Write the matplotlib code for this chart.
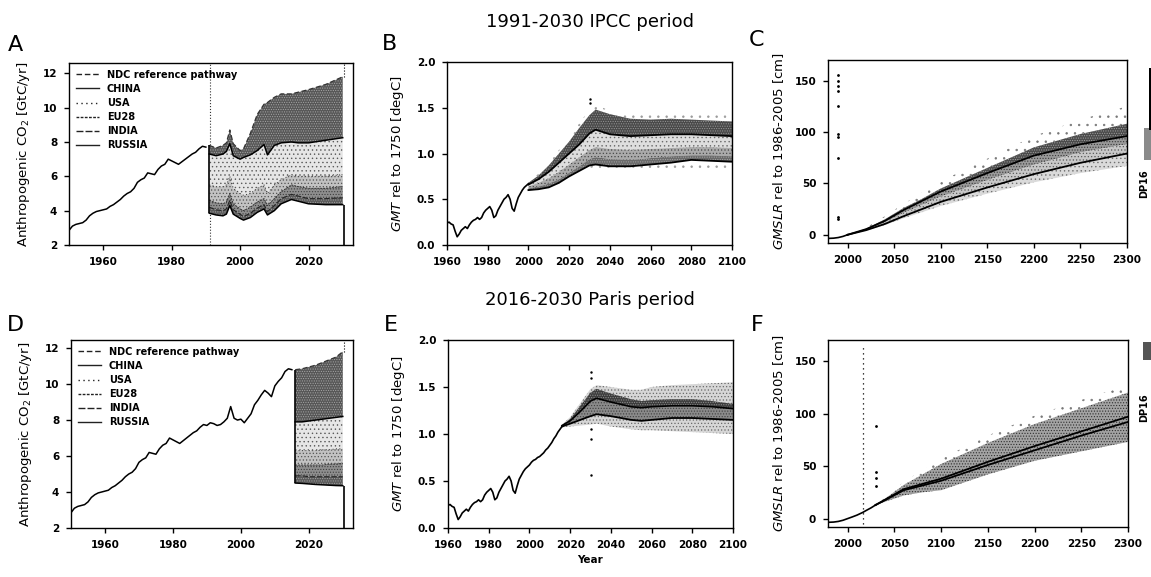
import matplotlib
matplotlib.use("Agg")
import matplotlib.pyplot as plt
from matplotlib.lines import Line2D
from matplotlib.patches import Rectangle

plt.rcParams['font.family'] = ['DejaVu Sans']
plt.rcParams['hatch.linewidth'] = 0.5

# ---------------- DATA ----------------
# Historical anthropogenic CO2 emissions (GtC/yr)
hist_years = list(range(1950, 2016))
hist_co2 = [2.85, 3.1, 3.2, 3.25, 3.3, 3.45, 3.7, 3.85, 3.95, 4.0,
            4.05, 4.1, 4.25, 4.35, 4.5, 4.65, 4.85, 5.0, 5.1, 5.3,
            5.65, 5.8, 5.9, 6.2, 6.15, 6.1, 6.4, 6.6, 6.7, 7.0,
            6.9, 6.8, 6.7, 6.85, 7.0, 7.15, 7.3, 7.4, 7.6, 7.75,
            7.7, 7.85, 7.8, 7.7, 7.75, 7.9, 8.1, 8.75, 8.1, 8.0,
            8.05, 7.85, 8.1, 8.35, 8.85, 9.1, 9.4, 9.65, 9.5, 9.3,
            9.9, 10.15, 10.35, 10.7, 10.85, 10.8]

# Panel A: 1991-2030 IPCC period, stacked country contributions
A_years = [1991, 1993, 1995, 1996, 1997, 1998, 2000, 2001, 2003, 2005,
           2007, 2008, 2010, 2012, 2015, 2017, 2020, 2025, 2030]
A_ref = [7.8, 7.65, 7.8, 7.95, 8.7, 7.9, 7.5, 7.6, 8.5, 9.6,
         10.2, 10.3, 10.6, 10.8, 10.8, 10.9, 11.05, 11.35, 11.8]
A_china = [7.3, 7.2, 7.3, 7.45, 7.9, 7.2, 7.0, 7.1, 7.25, 7.5,
           7.85, 7.25, 7.8, 7.95, 8.0, 7.95, 7.95, 8.1, 8.25]
A_usa = [5.5, 5.4, 5.4, 5.5, 6.0, 5.3, 5.0, 4.9, 5.0, 5.3,
         5.5, 5.0, 5.5, 5.8, 6.1, 6.0, 6.0, 6.0, 6.1]
A_eu28 = [4.6, 4.45, 4.4, 4.5, 5.0, 4.4, 4.1, 4.0, 4.2, 4.5,
          4.7, 4.3, 4.7, 5.1, 5.5, 5.4, 5.3, 5.3, 5.4]
A_india = [4.2, 4.05, 4.0, 4.1, 4.6, 4.05, 3.8, 3.65, 3.85, 4.15,
           4.35, 3.95, 4.3, 4.7, 4.95, 4.85, 4.7, 4.7, 4.75]
A_russia = [3.85, 3.75, 3.7, 3.8, 4.3, 3.8, 3.55, 3.45, 3.6, 3.9,
            4.1, 3.75, 4.0, 4.4, 4.65, 4.55, 4.4, 4.35, 4.35]

# Panel D: 2016-2030 Paris period
D_years = [2016, 2018, 2020, 2022, 2024, 2026, 2028, 2030]
D_ref = [10.8, 10.85, 10.95, 11.05, 11.2, 11.35, 11.5, 11.8]
D_china = [7.9, 7.9, 7.95, 8.0, 8.05, 8.1, 8.15, 8.2]
D_usa = [6.3, 6.3, 6.3, 6.3, 6.35, 6.35, 6.4, 6.4]
D_eu28 = [5.5, 5.5, 5.5, 5.5, 5.5, 5.55, 5.55, 5.6]
D_india = [4.9, 4.9, 4.85, 4.85, 4.85, 4.85, 4.85, 4.85]
D_russia = [4.5, 4.48, 4.45, 4.42, 4.4, 4.38, 4.36, 4.35]

legend_labels = ["NDC reference pathway", "CHINA", "USA", "EU28", "INDIA", "RUSSIA"]

# Historical GMT (degC rel. to 1750)
gmt_hist_years = list(range(1960, 2017))
gmt_hist = [0.24, 0.25, 0.23, 0.22, 0.15, 0.09, 0.12, 0.16, 0.18, 0.2,
            0.18, 0.22, 0.25, 0.27, 0.28, 0.3, 0.28, 0.3, 0.35, 0.38,
            0.4, 0.42, 0.38, 0.3, 0.32, 0.38, 0.42, 0.46, 0.5, 0.52,
            0.55, 0.5, 0.4, 0.37, 0.45, 0.52, 0.56, 0.6, 0.63, 0.65,
            0.67, 0.7, 0.72, 0.73, 0.75, 0.76, 0.78, 0.8, 0.83, 0.85,
            0.88, 0.91, 0.95, 0.98, 1.02, 1.05, 1.08]

# Panel B: GMT bands
B_years = [2000, 2005, 2010, 2015, 2020, 2025, 2030, 2033, 2040, 2050,
           2060, 2070, 2080, 2090, 2100]
B_scatter_top = [0.69, 0.78, 0.9, 1.04, 1.18, 1.33, 1.48, 1.53, 1.47, 1.42,
                 1.43, 1.45, 1.45, 1.46, 1.45]
B_top = [0.68, 0.76, 0.87, 1.0, 1.13, 1.28, 1.42, 1.48, 1.43, 1.38,
         1.37, 1.38, 1.37, 1.36, 1.35]
B_mid = [0.66, 0.72, 0.8, 0.9, 1.0, 1.1, 1.22, 1.26, 1.21, 1.19,
         1.2, 1.21, 1.21, 1.2, 1.19]
B_b2 = [0.64, 0.68, 0.73, 0.8, 0.88, 0.96, 1.04, 1.07, 1.05, 1.04,
        1.05, 1.06, 1.07, 1.07, 1.06]
B_b3 = [0.62, 0.64, 0.67, 0.72, 0.79, 0.86, 0.94, 0.96, 0.94, 0.93,
        0.95, 0.97, 0.98, 0.98, 0.97]
B_low = [0.6, 0.61, 0.63, 0.68, 0.75, 0.81, 0.87, 0.88, 0.86, 0.86,
         0.88, 0.9, 0.93, 0.92, 0.91]
B_scatter_bottom = [0.6, 0.6, 0.62, 0.67, 0.73, 0.79, 0.84, 0.85, 0.82, 0.8,
                    0.8, 0.81, 0.82, 0.8, 0.8]

# Panel E: GMT bands
E_years = [2016, 2020, 2025, 2030, 2033, 2040, 2050, 2055, 2060, 2070,
           2080, 2090, 2100]
E_light_top = [1.1, 1.18, 1.33, 1.48, 1.52, 1.5, 1.47, 1.47, 1.5, 1.52,
               1.53, 1.54, 1.55]
E_top = [1.09, 1.16, 1.3, 1.44, 1.48, 1.43, 1.37, 1.35, 1.36, 1.37,
         1.37, 1.35, 1.32]
E_mid = [1.09, 1.14, 1.24, 1.35, 1.38, 1.34, 1.29, 1.28, 1.29, 1.3,
         1.3, 1.29, 1.27]
E_low = [1.08, 1.11, 1.15, 1.19, 1.21, 1.19, 1.15, 1.14, 1.15, 1.17,
         1.17, 1.16, 1.15]
E_bottom = [1.07, 1.08, 1.09, 1.1, 1.11, 1.08, 1.05, 1.04, 1.04, 1.03,
            1.02, 1.01, 1.0]

# GMSLR historical (cm rel. to 1986-2005)
slr_hist_years = [1980, 1985, 1990, 1995, 2000, 2005, 2010, 2016, 2020, 2025, 2030]
slr_hist = [-3.5, -3.3, -2.7, -1.6, 0.0, 1.6, 3.3, 5.8, 7.8, 10.2, 13.0]

# Panel C: GMSLR bands
C_years = [2000, 2020, 2040, 2060, 2080, 2100, 2150, 2200, 2250, 2300]
C_scatter_top = [0.0, 7.0, 18.0, 30.0, 41.0, 52.0, 74.0, 96.0, 112.0, 125.0]
C_top = [0.0, 6.0, 15.0, 26.0, 35.0, 45.0, 65.0, 85.0, 98.0, 108.0]
C_upper = [0.0, 5.5, 13.5, 24.0, 33.0, 42.0, 60.0, 77.0, 88.0, 96.0]
C_mid = [0.0, 5.0, 12.0, 21.0, 29.0, 37.0, 53.0, 68.0, 80.0, 88.0]
C_lower = [0.0, 4.5, 10.5, 18.0, 25.0, 32.0, 46.0, 59.0, 70.0, 79.0]
C_bottom = [0.0, 4.0, 9.5, 16.0, 22.0, 28.0, 40.0, 51.0, 60.0, 67.0]
C_marker_year = 1990
C_marker_vals = [15, 17, 75, 95, 98, 125, 140, 145, 150, 155]

# Panel F: GMSLR bands
F_years = [2030, 2040, 2060, 2080, 2100, 2150, 2200, 2250, 2300]
F_scatter_top = [13.0, 20.0, 35.0, 46.0, 57.0, 79.0, 98.0, 113.0, 127.0]
F_top = [13.0, 19.0, 32.0, 42.0, 52.0, 72.0, 90.0, 105.0, 120.0]
F_upper = [13.0, 18.0, 28.0, 33.0, 38.0, 54.0, 69.0, 83.0, 97.0]
F_lower = [13.0, 17.5, 27.0, 31.5, 36.0, 51.0, 65.0, 79.0, 92.0]
F_bottom = [13.0, 16.0, 22.0, 25.0, 27.0, 42.0, 55.0, 64.0, 73.0]
F_marker_year = 2016
F_marker2_year = 2030
F_marker2_vals = [31, 39, 44, 88]
E_marker_year = 2030
E_marker_vals = [0.56, 0.95, 1.05, 1.6, 1.66]
B_marker_year = 2030
B_marker_vals = [1.55, 1.6]

titles = ["1991-2030 IPCC period", "2016-2030 Paris period"]
letters = ["A", "B", "C", "D", "E", "F"]
edge_label = "DP16"

# ---------------- FIGURE ----------------
W, H = 1151, 577
fig = plt.figure(figsize=(W / 100, H / 100), dpi=100)


def add_ax(x0, y0, x1, y1):
    return fig.add_axes([x0 / W, 1 - y1 / H, (x1 - x0) / W, (y1 - y0) / H])


axA = add_ax(69, 63, 353, 245)
axB = add_ax(447, 62, 732, 245)
axC = add_ax(828, 60, 1127, 243)
axD = add_ax(71, 340, 353, 528)
axE = add_ax(448, 340, 733, 528)
axF = add_ax(828, 340, 1128, 527)

styles = [(0, (4, 2)), '-', (0, (1, 2.5)), (0, (2, 1)), (0, (5, 1.5)), '-']


def band(ax, x, lo, hi, face, dots, hatch='......', z=2):
    ax.fill_between(x, lo, hi, facecolor=face, edgecolor=dots, hatch=hatch,
                    lw=0, zorder=z)


def style_ax(ax):
    for s in ax.spines.values():
        s.set_linewidth(1.0)
        s.set_color('black')
    ax.tick_params(direction='out', length=3.5, width=1.0, pad=5)
    for lab in ax.get_xticklabels() + ax.get_yticklabels():
        lab.set_fontsize(7.5)
        lab.set_fontweight('bold')


def emissions_panel(ax, years, ref, china, usa, eu28, india, russia, hist_end, ylim_top):
    hy = [y for y in hist_years if y <= hist_end]
    hv = hist_co2[:len(hy)]
    ax.plot(hy, hv, color='black', lw=1.1, zorder=4)
    band(ax, years, china, ref, '#575757', '#a5a5a5', '.......')
    band(ax, years, usa, china, '#e6e6e6', '#5a5a5a', '....')
    band(ax, years, eu28, usa, '#c2c2c2', '#555555', '.....')
    band(ax, years, india, eu28, '#8e8e8e', '#3f3f3f', '......')
    band(ax, years, russia, india, '#5a5a5a', '#a0a0a0', '.......')
    ax.plot(years, ref, color='#333333', lw=0.9, ls=styles[0], zorder=3)
    ax.plot(years, china, color='black', lw=1.1, ls=styles[1], zorder=3)
    ax.plot(years, usa, color='#333333', lw=0.7, ls=styles[2], zorder=3)
    ax.plot(years, eu28, color='#333333', lw=0.7, ls=styles[3], zorder=3)
    ax.plot(years, india, color='#222222', lw=0.8, ls=styles[4], zorder=3)
    ax.plot(years, russia, color='black', lw=1.1, ls=styles[5], zorder=3)
    ax.vlines(years[0], russia[0], ref[0], color='black', lw=1.2, zorder=4)
    ax.vlines(years[-1] + 0.4, 2, russia[-1], color='black', lw=1.2, zorder=4)
    ax.vlines(years[-1] + 0.4, ref[-1], ylim_top, color='black', lw=0.8, ls=':', zorder=4)
    ax.set_xlim(1950, 2033)
    ax.set_ylim(2, ylim_top)
    ax.set_xticks([1960, 1980, 2000, 2020])
    ax.set_yticks([2, 4, 6, 8, 10, 12])
    ax.set_ylabel(r"Anthropogenic CO$_2$ [GtC/yr]", fontsize=9.5, labelpad=8)
    handles = [Line2D([], [], color='#222222', lw=1.0, ls=s) for s in styles]
    ax.legend(handles, legend_labels, loc='upper left', frameon=False,
              handlelength=2.4, handletextpad=0.8,
              labelspacing=0.42, borderaxespad=0.3,
              prop=dict(size=7, weight='bold'))
    style_ax(ax)


emissions_panel(axA, A_years, A_ref, A_china, A_usa, A_eu28, A_india, A_russia, 1990, 12.6)
axA.axvline(A_years[0] + 0.3, color='#333333', lw=0.8, ls=':', zorder=1)
emissions_panel(axD, D_years, D_ref, D_china, D_usa, D_eu28, D_india, D_russia, 2015, 12.45)


def gmt_common(ax, hist_end):
    hy = [y for y in gmt_hist_years if y <= hist_end]
    ax.plot(hy, gmt_hist[:len(hy)], color='black', lw=1.2, zorder=5)
    ax.set_xlim(1960, 2100)
    ax.set_ylim(0, 2.0)
    ax.set_xticks(list(range(1960, 2101, 20)))
    ax.set_yticks([0.0, 0.5, 1.0, 1.5, 2.0])
    ax.set_yticklabels(["0.0", "0.5", "1.0", "1.5", "2.0"])
    ax.set_ylabel(r"$\it{GMT}$ rel to 1750 [degC]", fontsize=9.5, labelpad=8)


# Panel B
band(axB, B_years, B_top, B_scatter_top, 'white', '#9a9a9a', '..', z=1)
band(axB, B_years, B_scatter_bottom, B_low, 'white', '#9a9a9a', '..', z=1)
band(axB, B_years, B_mid, B_top, '#4a4a4a', '#959595', '.......')
band(axB, B_years, B_b2, B_mid, '#dedede', '#6a6a6a', '....')
band(axB, B_years, B_b3, B_b2, '#aaaaaa', '#4a4a4a', '.....')
band(axB, B_years, B_low, B_b3, '#6a6a6a', '#a5a5a5', '.......')
axB.plot(B_years, B_mid, color='black', lw=1.3, zorder=3)
axB.plot(B_years, B_low, color='black', lw=1.3, zorder=3)
axB.plot([B_marker_year] * len(B_marker_vals), B_marker_vals, ls='none', marker='.',
         ms=1.5, color='black')
gmt_common(axB, 2000)
style_ax(axB)

# Panel E
band(axE, E_years, E_bottom, E_light_top, '#d6d6d6', '#6a6a6a', '.....', z=1)
band(axE, E_years, E_mid, E_top, '#3d3d3d', '#8f8f8f', '.......')
band(axE, E_years, E_low, E_mid, '#8a8a8a', '#404040', '......')
axE.plot(E_years, E_mid, color='black', lw=1.2, zorder=3)
axE.plot(E_years, E_low, color='black', lw=1.3, zorder=3)
axE.plot([E_marker_year] * len(E_marker_vals), E_marker_vals, ls='none', marker='.',
         ms=1.5, color='black')
gmt_common(axE, 2016)
axE.set_xlabel("Year", fontsize=7.5, fontweight='bold', labelpad=4)
style_ax(axE)


def slr_common(ax, hist_end):
    hy = [y for y in slr_hist_years if y <= hist_end]
    ax.plot(hy, slr_hist[:len(hy)], color='black', lw=1.2, zorder=5)
    ax.set_xlim(1979, 2300)
    ax.set_ylim(-8, 170)
    ax.set_xticks(list(range(2000, 2301, 50)))
    ax.set_yticks([0, 50, 100, 150])
    ax.set_ylabel(r"$\it{GMSLR}$ rel to 1986-2005 [cm]", fontsize=9.5, labelpad=6)


# Panel C
band(axC, C_years, C_top, C_scatter_top, 'white', '#777777', '..', z=1)
band(axC, C_years, C_upper, C_top, '#4a4a4a', '#a0a0a0', '.......')
band(axC, C_years, C_mid, C_upper, '#9a9a9a', '#3a3a3a', '......')
band(axC, C_years, C_lower, C_mid, '#c8c8c8', '#5a5a5a', '.....')
band(axC, C_years, C_bottom, C_lower, '#dadada', '#707070', '....')
axC.plot(C_years, C_upper, color='black', lw=1.3, zorder=3)
axC.plot(C_years, C_lower, color='black', lw=1.3, zorder=3)
axC.plot([C_marker_year] * len(C_marker_vals), C_marker_vals, ls='none', marker='.',
         ms=2, color='black')
slr_common(axC, 2000)
style_ax(axC)

# Panel F
band(axF, F_years, F_top, F_scatter_top, 'white', '#777777', '..', z=1)
band(axF, F_years, F_bottom, F_top, '#a3a3a3', '#303030', '......')
axF.plot(F_years, F_upper, color='black', lw=1.3, zorder=3)
axF.plot(F_years, F_lower, color='black', lw=1.3, zorder=3)
axF.vlines(F_marker_year, -5, 165, color='black', lw=0.9, ls=(0, (1, 3)), zorder=4)
axF.plot([F_marker2_year] * len(F_marker2_vals), F_marker2_vals, ls='none', marker='.',
         ms=2, color='black')
slr_common(axF, 2030)
style_ax(axF)

# Titles and panel letters
fig.text(590 / W, 1 - 22 / H, titles[0], ha='center', va='center', fontsize=13)
fig.text(590 / W, 1 - 300 / H, titles[1], ha='center', va='center', fontsize=13)
letter_pos = [(15, 45), (390, 44), (757, 40), (15, 325), (391, 325), (757, 325)]
for lt, (x, y) in zip(letters, letter_pos):
    fig.text(x / W, 1 - y / H, lt, ha='center', va='center', fontsize=16)

# Partially visible neighbouring panel at the right edge
fig.add_artist(Rectangle((1144 / W, 1 - 160 / H), 10 / W, 32 / H, transform=fig.transFigure,
                         facecolor='#8a8a8a', edgecolor='none'))
fig.add_artist(Rectangle((1149 / W, 1 - 130 / H), 4 / W, 62 / H, transform=fig.transFigure,
                         facecolor='black', edgecolor='none'))
fig.text(1144 / W, 1 - 184 / H, edge_label, rotation=90, ha='center', va='center',
         fontsize=7, fontweight='bold')
fig.text(1144 / W, 1 - 408 / H, edge_label, rotation=90, ha='center', va='center',
         fontsize=7, fontweight='bold')
fig.add_artist(Rectangle((1143 / W, 1 - 360 / H), 8 / W, 18 / H, transform=fig.transFigure,
                         facecolor='#555555', edgecolor='none'))

fig.savefig("out.png", dpi=100)
